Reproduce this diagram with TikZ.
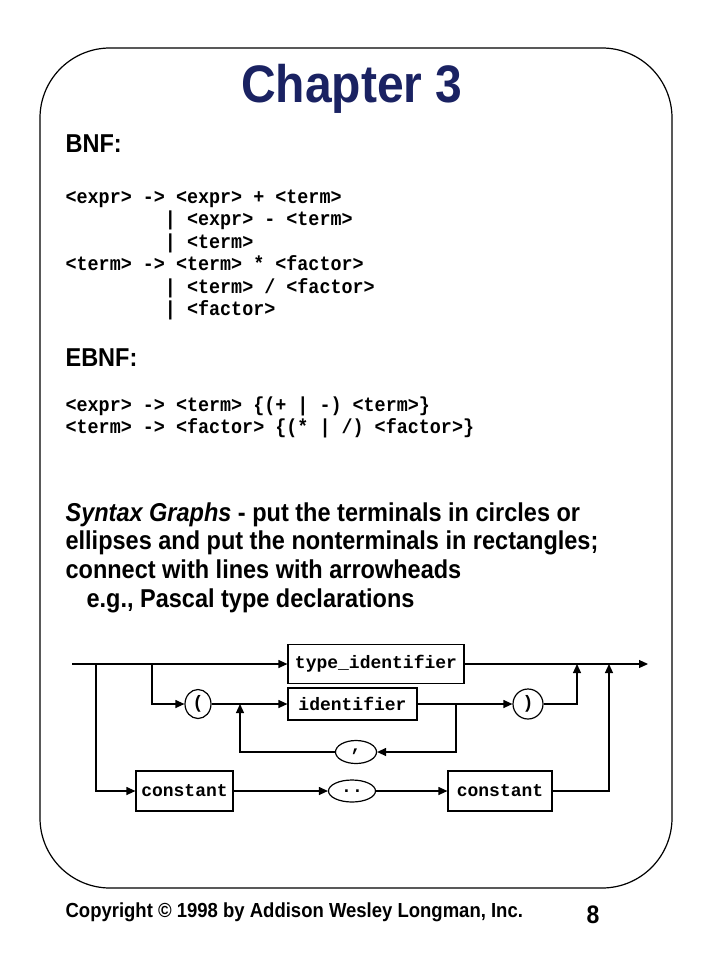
\documentclass[tikz,border=0pt]{standalone}
\usepackage{fontspec}
\setmainfont{Liberation Sans}
\setmonofont{Liberation Mono}
\usepackage{tikz}
\usetikzlibrary{arrows.meta, shapes.geometric}

\definecolor{titleblue}{RGB}{26,34,98}

\tikzset{
    txt/.style={inner sep=0pt, transform shape, yscale=1.1},
    head/.style={txt, anchor=base west, font=\bfseries\fontsize{23.5}{28}\selectfont},
    bnf/.style={txt, anchor=base west, font=\ttfamily\bfseries\fontsize{18.4}{22}\selectfont},
    nonterm/.style={draw, rectangle, font=\ttfamily\bfseries\fontsize{18}{18}\selectfont, minimum height=39pt, inner sep=0pt},
    term/.style={draw, ellipse, font=\ttfamily\bfseries\fontsize{18}{18}\selectfont, inner sep=0pt},
    arr/.style={-{Triangle[length=9pt,width=8pt]}},
}

\begin{document}
\begin{tikzpicture}[x=1pt, y=-1pt, line width=1.2pt]
    \useasboundingbox (0,0) rectangle (720,960);
    \draw[rounded corners=70pt] (40,48) rectangle (672,888);

    % title
    \node[txt, anchor=base, text=titleblue, font=\bfseries\fontsize{48}{50}\selectfont] (title) at (352,103) {Chapter 3};

    % BNF
    \node[head] (bnf) at (65,153) {BNF:};
    \node[bnf] (b1) at (65,203) {<expr> -> <expr> + <term>};
    \node[bnf] (b2) at (65,225) {\phantom{<expr> ->}| <expr> - <term>};
    \node[bnf] (b3) at (65,248) {\phantom{<expr> ->}| <term>};
    \node[bnf] (b4) at (65,270) {<term> -> <term> * <factor>};
    \node[bnf] (b5) at (65,293) {\phantom{<term> ->}| <term> / <factor>};
    \node[bnf] (b6) at (65,315) {\phantom{<term> ->}| <factor>};

    % EBNF
    \node[head] (ebnf) at (65,366) {EBNF:};
    \node[bnf] (e1) at (65,411) {<expr> -> <term> \{(+ | -) <term>\}};
    \node[bnf] (e2) at (65,433) {<term> -> <factor> \{(* | /) <factor>\}};

    % syntax graphs text
    \node[head] (s1) at (65,521) {\textit{Syntax Graphs} - put the terminals in circles or};
    \node[head] (s2) at (65,549) {ellipses and put the nonterminals in rectangles;};
    \node[head] (s3) at (65,578) {connect with lines with arrowheads};
    \node[head] (s4) at (86,607) {e.g., Pascal type declarations};

    % syntax graph
    \coordinate (start) at (72,664);
    \coordinate (finish) at (648,664);
    \coordinate (br1) at (96,664);
    \coordinate (br2) at (152,664);
    \coordinate (j1) at (240,704);
    \coordinate (j2) at (456,704);
    \coordinate (m1) at (577,664);
    \coordinate (m2) at (609,664);

    \node[nonterm, minimum width=176pt] (tid) at (376,664) {type\_identifier};
    \node[term, minimum width=26pt, minimum height=29pt] (lp) at (198,704) {(};
    \node[nonterm, minimum width=129pt, minimum height=32pt] (ident) at (352.5,704) {identifier};
    \node[term, minimum width=30pt, minimum height=30pt] (rp) at (528,704) {)};
    \node[term, minimum width=41pt, minimum height=23pt] (comma) at (356,752) {,};
    \node[nonterm, minimum width=97pt, minimum height=40pt] (con1) at (184.5,791) {constant};
    \node[term, minimum width=47pt, minimum height=22pt] (dots) at (352,791) {..};
    \node[nonterm, minimum width=104pt, minimum height=40pt] (con2) at (500,791) {constant};

    \draw[arr] (start) -- (tid);
    \draw[arr] (tid) -- (finish);
    \draw[arr] (br2) |- (lp);
    \draw[arr] (lp) -- (ident);
    \draw[arr] (ident) -- (rp);
    \draw[arr] (j2) |- (comma);
    \draw[arr] (comma) -| (j1);
    \draw[arr] (rp) -| (m1);
    \draw[arr] (br1) |- (con1);
    \draw[arr] (con1) -- (dots);
    \draw[arr] (dots) -- (con2);
    \draw[arr] (con2) -| (m2);

    % footer
    \node[txt, anchor=base west, font=\bfseries\fontsize{18.5}{20}\selectfont] (copy) at (65,917) {Copyright \textcopyright{} 1998 by Addison Wesley Longman, Inc.};
    \node[txt, anchor=base, font=\bfseries\fontsize{23}{25}\selectfont] (page) at (593,923) {8};
\end{tikzpicture}
\end{document}
